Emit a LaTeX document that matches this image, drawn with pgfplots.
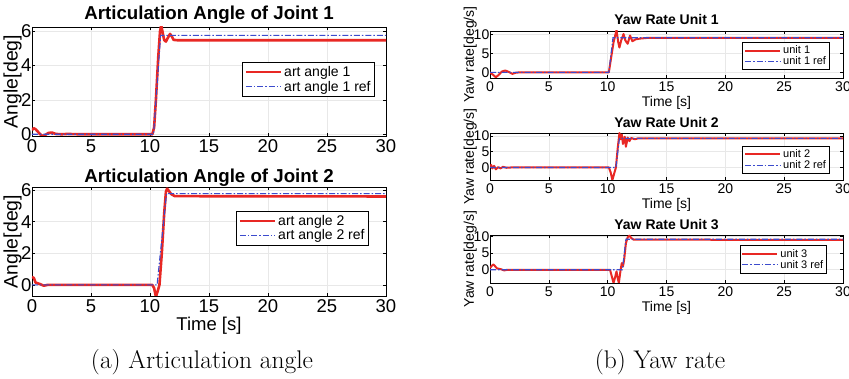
\documentclass[border=0pt]{standalone}
\usepackage{pgfplots}
\pgfplotsset{compat=1.18}
\usepackage{fontspec}
\newfontfamily\arial{Liberation Sans}
\definecolor{mred}{RGB}{232,40,36}
\definecolor{mblue}{RGB}{60,75,205}
\pgfplotsset{
  base/.style={
    scale only axis, anchor=south west,
    xmin=0, xmax=30, xtick={0,5,...,30},
    grid=major, major grid style={gray!18, line width=0.6pt},
    axis line style={black, line width=0.8pt},
    tick align=inside, tick pos=both,
    major tick length=3pt, tick style={black, line width=0.6pt},
    /pgf/number format/assume math mode=true,
    legend cell align=left,
    legend image code/.code={\draw[##1] (0pt,0pt) -- (35pt,0pt);},
    clip=true,
  },
  leftax/.style={base, width=354pt, height=109pt,
    tick label style={font=\arial\fontsize{18.5}{20}\selectfont},
    yticklabel style={inner xsep=0.5pt},
    ylabel style={font=\arial\fontsize{19.5}{21}\selectfont, at={(axis description cs:-0.055,0.5)}, anchor=center},
    xlabel style={font=\arial\fontsize{18.5}{20}\selectfont},
    legend style={font=\arial\fontsize{14}{16}\selectfont, draw=black, line width=0.8pt, inner sep=2pt, row sep=-1pt, anchor=north east},
  },
  rightax/.style={base, width=353pt, height=47pt,
    tick label style={font=\arial\fontsize{14}{15}\selectfont},
    yticklabel style={inner xsep=0.5pt},
    ylabel style={font=\arial\fontsize{14}{15}\selectfont, at={(axis description cs:-0.056,0.5)}, anchor=center},
    xlabel style={font=\arial\fontsize{14}{15}\selectfont, at={(axis description cs:0.5,-0.52)}, anchor=center},
    ytick={0,5,10},
    legend style={font=\arial\fontsize{11}{12}\selectfont, draw=black, line width=0.8pt, inner sep=1.5pt, row sep=-2.5pt, anchor=north east},
  },
  redl/.style={mred, line width=2.6pt, line join=round},
  redr/.style={mred, line width=2.0pt, line join=round},
  bluel/.style={mblue, line width=1.1pt, dash pattern=on 6pt off 2pt on 1.5pt off 2pt},
}
\begin{document}
\begin{tikzpicture}[x=1pt,y=1pt]
\useasboundingbox (0,0) rectangle (849,379);
% ---------- Left top ----------
\begin{axis}[leftax, at={(32pt,243pt)},
  ymin=-0.1, ymax=6.25, ytick={0,2,4,6},
  ylabel={Angle[deg]},
  legend style={at={(0.969,0.68)}}]
\addplot[redl] coordinates {(0,0.25)(0.15,0.35)(0.3,0.3)(0.5,0.15)(0.7,0.0)(0.9,-0.1)(1.1,-0.05)(1.4,0.08)(1.7,0.1)(2.0,0.02)(2.5,0.0)(3,0.02)(4,0)(10.2,0)(10.35,0.4)(10.5,2.0)(10.7,4.5)(10.85,6.0)(10.95,6.35)(11.05,6.0)(11.2,5.5)(11.35,5.4)(11.5,5.6)(11.7,5.85)(11.85,5.7)(12.0,5.5)(12.3,5.48)(30,5.48)};
\addlegendentry{art angle 1}
\addplot[bluel] coordinates {(0,0)(10.3,0)(10.9,5.76)(30,5.76)};
\addlegendentry{art angle 1 ref}
\end{axis}
% ---------- Left bottom ----------
\begin{axis}[leftax, at={(32pt,83pt)}, height=109pt,
  ymin=-0.7, ymax=6.2, ytick={0,2,4,6},
  ylabel={Angle[deg]},
  xlabel={Time [s]},
  xlabel style={at={(axis description cs:0.5,-0.27)}, anchor=center},
  legend style={at={(0.952,0.782)}}]
\addplot[redl] coordinates {(0,0.5)(0.15,0.45)(0.3,0.15)(0.5,0.1)(0.7,0.05)(1.0,-0.05)(1.3,0)(10.2,0)(10.35,-0.2)(10.5,-0.75)(10.65,-0.4)(10.8,0)(11.0,2.0)(11.2,4.5)(11.35,5.9)(11.45,6.1)(11.6,5.95)(11.8,5.75)(12.1,5.62)(30,5.6)};
\addlegendentry{art angle 2}
\addplot[bluel] coordinates {(0,0)(10.6,0)(11.4,5.78)(30,5.78)};
\addlegendentry{art angle 2 ref}
\end{axis}
% ---------- Right 1 ----------
\begin{axis}[rightax, at={(490pt,301pt)},
  ymin=-1.5, ymax=11,
  ylabel={Yaw rate[deg/s]}, xlabel={Time [s]},
  legend style={at={(0.963,0.766)}}]
\addplot[redr] coordinates {(0,0)(0.2,-0.5)(0.5,-1.3)(0.8,-0.5)(1.0,0.2)(1.3,0.5)(1.6,0.1)(1.9,-0.4)(2.2,-0.1)(2.5,0)(10.1,0)(10.3,4)(10.5,8)(10.75,11.2)(10.9,8)(11.0,6.6)(11.15,8.5)(11.35,10.2)(11.5,8.5)(11.7,7.6)(11.9,9.8)(12.1,8.3)(12.4,8.8)(12.8,9.0)(13.5,9.2)(30,9.2)};
\addlegendentry{unit 1}
\addplot[bluel] coordinates {(0,0)(10.1,0)(10.45,9.2)(30,9.2)};
\addlegendentry{unit 1 ref}
\end{axis}
% ---------- Right 2 ----------
\begin{axis}[rightax, at={(490pt,199pt)},
  ymin=-4, ymax=11,
  ylabel={Yaw rate[deg/s]}, xlabel={Time [s]},
  legend style={at={(0.963,0.729)}}]
\addplot[redr] coordinates {(0,0.3)(0.1,0.8)(0.2,-0.3)(0.35,0.5)(0.5,-0.6)(0.7,0.1)(0.9,-0.3)(1.1,0.2)(1.4,-0.1)(1.8,0)(10.1,0)(10.25,-1.5)(10.4,-4)(10.55,-2)(10.7,0)(10.85,6)(11.0,11)(11.1,9)(11.2,10.5)(11.3,7.5)(11.45,9.8)(11.55,6.6)(11.7,9.5)(11.85,8.4)(12.0,9.4)(12.3,9.0)(12.6,9.3)(30,9.3)};
\addlegendentry{unit 2}
\addplot[bluel] coordinates {(0,0)(10.7,0)(11.0,9.3)(30,9.3)};
\addlegendentry{unit 2 ref}
\end{axis}
% ---------- Right 3 ----------
\begin{axis}[rightax, at={(490pt,96pt)}, height=48pt,
  ymin=-4, ymax=10.5,
  ylabel={Yaw rate[deg/s]}, xlabel={Time [s]},
  legend style={at={(0.955,0.787)}}]
\addplot[redr] coordinates {(0,0.5)(0.15,1.2)(0.3,1.6)(0.45,1.0)(0.6,0.4)(0.9,0.2)(1.2,-0.2)(1.5,0)(10.2,0)(10.35,-2)(10.5,-4)(10.65,-2)(10.75,-0.5)(10.85,-2.5)(10.95,-4)(11.1,0)(11.2,2)(11.3,1)(11.4,3)(11.55,8)(11.7,9.8)(11.85,10.3)(12.0,9.6)(12.2,9.1)(30,9.0)};
\addlegendentry{unit 3}
\addplot[bluel] coordinates {(0,0)(11.25,0)(11.55,9.2)(30,9.2)};
\addlegendentry{unit 3 ref}
\end{axis}
% ---------- titles and captions ----------
\begin{scope}[every node/.style={anchor=base, inner sep=0pt}]
\node[font=\arial\bfseries\fontsize{18.7}{20}\selectfont] at (209,359) {Articulation Angle of Joint 1};
\node[font=\arial\bfseries\fontsize{18.7}{20}\selectfont] at (209,196) {Articulation Angle of Joint 2};
\node[font=\arial\bfseries\fontsize{14}{15}\selectfont] at (666.5,354) {Yaw Rate Unit 1};
\node[font=\arial\bfseries\fontsize{14}{15}\selectfont] at (666.5,251) {Yaw Rate Unit 2};
\node[font=\arial\bfseries\fontsize{14}{15}\selectfont] at (666.5,149) {Yaw Rate Unit 3};
\end{scope}
\node[font=\fontsize{25.5}{27}\selectfont] at (202,17) {(a) Articulation angle};
\node[font=\fontsize{25.5}{27}\selectfont] at (660,17) {(b) Yaw rate};
\end{tikzpicture}
\end{document}
